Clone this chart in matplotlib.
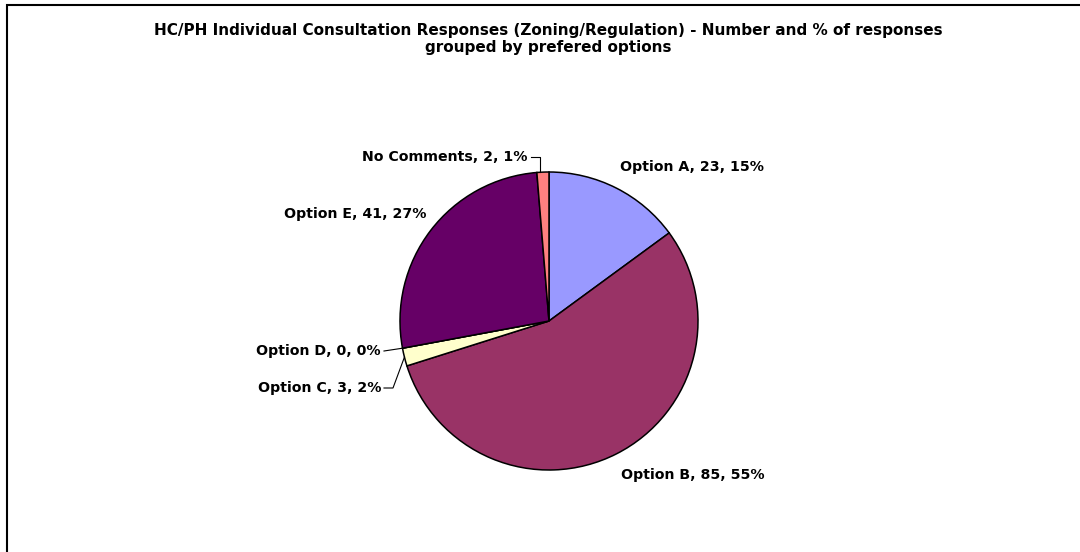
import numpy as np
import matplotlib.pyplot as plt
from matplotlib.patches import Rectangle

# data
labels = ["Option A", "Option B", "Option C", "Option D", "Option E", "No Comments"]
counts = [23, 85, 3, 0, 41, 2]
pcts = [15, 55, 2, 0, 27, 1]
colors = ["#9999FF", "#993366", "#FFFFCC", "#FFFFFF", "#660066", "#FF8080"]

title = ("HC/PH Individual Consultation Responses (Zoning/Regulation) - Number and % of responses\n"
         "grouped by prefered options")

W, H = 1080, 552
plt.rcParams['font.family'] = ['DejaVu Sans']

fig = plt.figure(figsize=(W / 100, H / 100), dpi=100)
ax = fig.add_axes([0, 0, 1, 1])
ax.set_aspect('equal')
ax.axis('off')

def py(y):
    # pixel row (top down) -> data y
    return H - y

cx, cy, r = 549, py(321), 149
wedges, _ = ax.pie(counts, colors=colors, startangle=90, counterclock=False,
                   center=(cx, cy), radius=r,
                   wedgeprops=dict(edgecolor='black', linewidth=1.1))
ax.set_xlim(0, W)
ax.set_ylim(0, H)

# label layout: (x, y pixel, ha, elbow point or None)
layout = [
    (620, 167, 'left', None),
    (765, 475, 'right', None),
    (381, 388, 'right', (393, 388)),
    (381, 351, 'right', None),
    (426, 214, 'right', None),
    (528, 157, 'right', (540, 157)),
]
leader = [False, False, True, True, False, True]

for i, w in enumerate(wedges):
    x, y, ha, elbow = layout[i]
    txt = f"{labels[i]}, {counts[i]}, {pcts[i]}%"
    ax.text(x, py(y), txt, ha=ha, va='center', fontsize=10.2, fontweight='bold')
    if leader[i]:
        mid = np.deg2rad((w.theta1 + w.theta2) / 2)
        ex, ey = cx + r * np.cos(mid), cy + r * np.sin(mid)
        if elbow is None:
            xs, ys = [x + 3, ex], [py(y), ey]
        else:
            xs, ys = [x + 3, elbow[0], ex], [py(y), py(elbow[1]), ey]
            if i == 5:
                xs[-1] = elbow[0]
        ax.plot(xs, ys, color='black', linewidth=0.8)

fig.text(548 / W, 1 - 39 / H, title, ha='center', va='center', fontsize=11,
         fontweight='bold', linespacing=1.2)

# chart area frame (extends past the right/bottom edges)
fig.patches.append(Rectangle((7 / W, -0.1), 1.2, 1 - 5 / H + 0.1, transform=fig.transFigure,
                             fill=False, edgecolor='black', linewidth=1.5))

fig.savefig('out.png', dpi=100, facecolor='white')
